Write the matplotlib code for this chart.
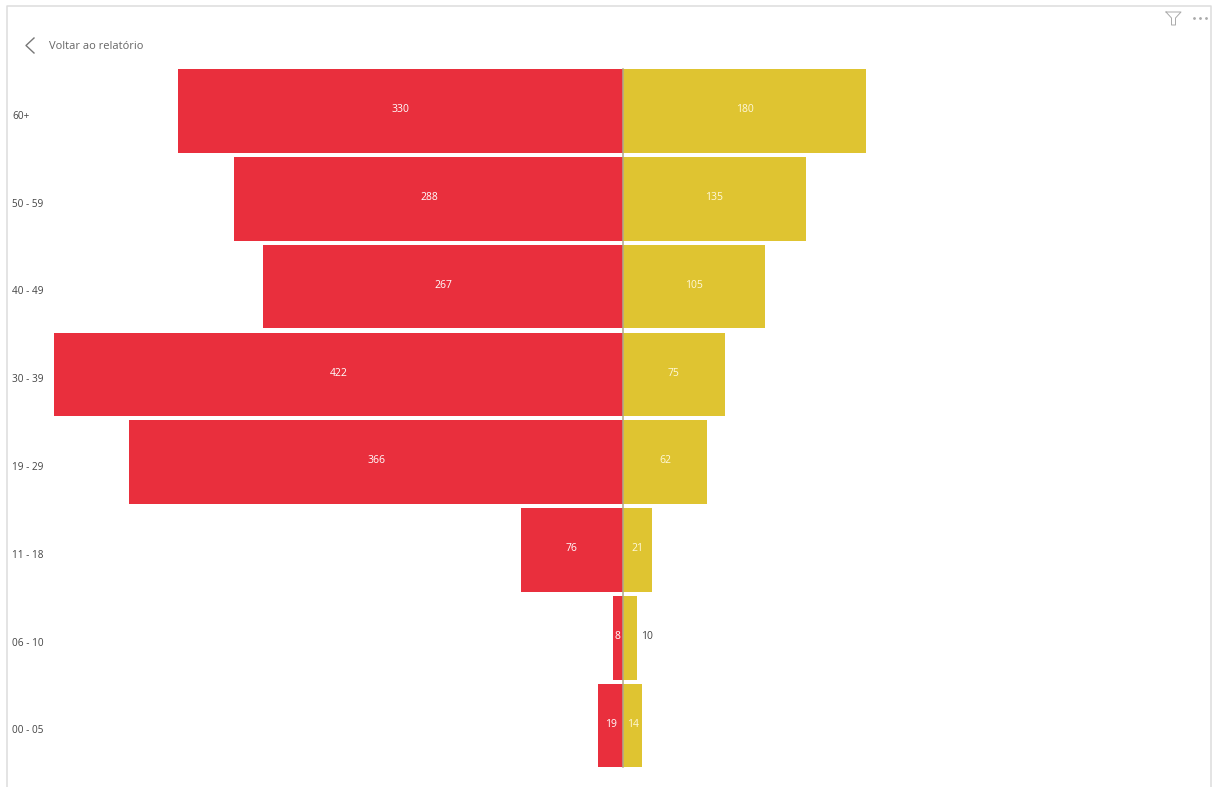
import matplotlib
matplotlib.use("Agg")
import matplotlib.pyplot as plt
import numpy as np

plt.rcParams['font.family'] = ['Open Sans', 'DejaVu Sans']

# DATA, BOTTOM TO TOP
age_groups = ['00 - 05', '06 - 10', '11 - 18', '19 - 29', '30 - 39', '40 - 49', '50 - 59', '60+']
red_values = [19, 8, 76, 366, 422, 267, 288, 330]
yellow_values = [14, 10, 21, 62, 75, 105, 135, 180]

RED = '#E92F3D'
YELLOW = '#DFC431'
W, H = 1214, 787
PX_PER_UNIT = 1.35
ZERO_X = 623.3
BOTTOM_CENTER = 725.6
STEP = 87.8

fig = plt.figure(figsize=(W / 100, H / 100), dpi=100)
ax = fig.add_axes([0, 0, 1, 1])
ax.set_xlim(-ZERO_X / PX_PER_UNIT, (W - ZERO_X) / PX_PER_UNIT)
# y axis set so the categories land on the right pixel rows
ax.set_ylim((BOTTOM_CENTER - H) / STEP, BOTTOM_CENTER / STEP)
ax.axis('off')

y = np.arange(len(age_groups))
bar_h = 83.6 / STEP
ax.barh(y, -np.array(red_values), height=bar_h, color=RED)
ax.barh(y, yellow_values, height=bar_h, color=YELLOW)
ax.plot([0, 0], [y[0] - bar_h / 2, y[-1] + bar_h / 2], color='#B0A98A', lw=1.1)

# VALUE LABELS
for i in y:
    ax.annotate(str(red_values[i]), (-red_values[i] / 2, i), xytext=(0, 1.0), textcoords='offset points',
                ha='center', va='center', color='white', fontsize=7.5, fontweight='medium')
    if yellow_values[i] > 10:
        ax.annotate(str(yellow_values[i]), (yellow_values[i] / 2, i), xytext=(0, 1.0), textcoords='offset points',
                    ha='center', va='center', color='#FFF9DC', fontsize=7.5, fontweight='medium')
    else:
        ax.annotate(str(yellow_values[i]), (yellow_values[i], i), xytext=(3, 1.0), textcoords='offset points',
                    ha='left', va='center', color='#444444', fontsize=7.5)

# CATEGORY LABELS
for i in y:
    ax.annotate(age_groups[i], (0, i), xycoords=('figure pixels', 'data'), xytext=(12 * 0.72, -3.8),
                textcoords='offset points', ha='left', va='center', color='#444444', fontsize=7.2)

# REPORT CHROME, IN PIXELS FROM TOP LEFT
chrome = fig.add_axes([0, 0, 1, 1], facecolor='none')
chrome.set_xlim(0, W)
chrome.set_ylim(H, 0)
chrome.axis('off')
chrome.plot([7, 7, 1211, 1211], [H, 6, 6, H], color='#DDDDDD', lw=1.1)
chrome.plot([34, 26, 34], [38, 45.5, 53], color='#777777', lw=1.0)
chrome.text(49, 46.5, 'Voltar ao relatório', color='#666666', fontsize=8, ha='left', va='center')
chrome.plot([1166, 1181, 1175.5, 1175.5, 1171.5, 1171.5, 1166], [12, 12, 18, 25, 25, 18, 12], color='#AAAAAA', lw=0.7)
chrome.plot([1194, 1200, 1206], [18, 18, 18], ls='none', marker='o', ms=1.0, color='#AAAAAA')

fig.savefig('out.png', dpi=100)
